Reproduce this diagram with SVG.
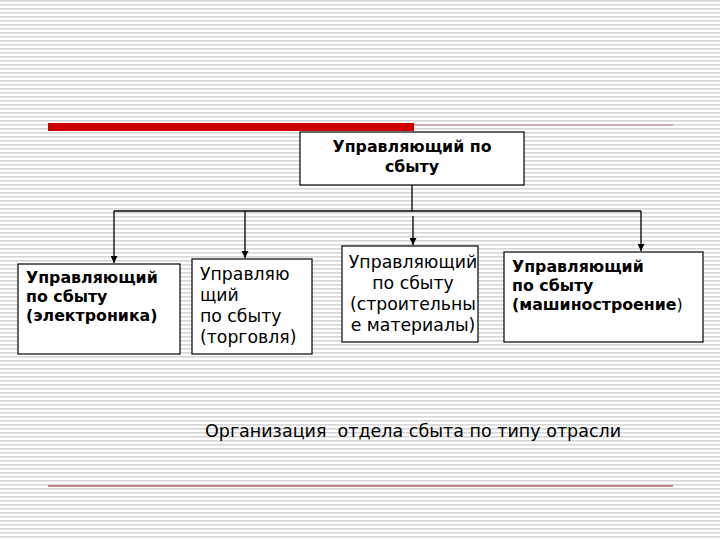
<svg xmlns="http://www.w3.org/2000/svg" width="720" height="540" viewBox="0 0 720 540">
<defs>
<pattern id="stripes" width="8" height="4" patternUnits="userSpaceOnUse">
<rect width="8" height="4" fill="#ffffff"/>
<rect y="0" width="8" height="1.6" fill="#d6d6d6"/>
</pattern>
<marker id="arr" viewBox="0 0 10 10" refX="10" refY="5" markerWidth="7" markerHeight="7" orient="auto" markerUnits="userSpaceOnUse">
<path d="M0,0 L10,5 L0,10 z" fill="#000"/>
</marker>
<style>
.box{fill:#fff;stroke:#000;stroke-width:1.2}
.b{font-family:"DejaVu Sans",Verdana,sans-serif;font-weight:bold;font-size:15.8px;fill:#000}
.r{font-family:"DejaVu Sans",Verdana,sans-serif;font-size:17.3px;fill:#000}
.ln{fill:none;stroke:#000;stroke-width:1.3}
</style>
</defs>
<rect width="720" height="540" fill="url(#stripes)"/>
<rect x="48" y="123" width="366" height="8" fill="#cc0000"/>
<line x1="414" y1="125" x2="673" y2="125" stroke="#b08080" stroke-width="1"/>
<line x1="48" y1="486" x2="673" y2="486" stroke="#8b1a1a" stroke-width="1.2"/>
<g id="connectors">
<path class="ln" d="M412,185 V211"/>
<path class="ln" d="M114,211 H641"/>
<path class="ln" d="M114,211 V263" marker-end="url(#arr)"/>
<path class="ln" d="M245,211 V258" marker-end="url(#arr)"/>
<path class="ln" d="M413,216 V245" marker-end="url(#arr)"/>
<path class="ln" d="M641,211 V251" marker-end="url(#arr)"/>
</g>
<g id="top">
<rect class="box" x="300" y="132" width="224" height="53"/>
<text class="b" x="412" y="152" text-anchor="middle">Управляющий по</text>
<text class="b" x="412" y="172" text-anchor="middle">сбыту</text>
</g>
<g id="n1">
<rect class="box" x="18" y="264" width="162" height="90"/>
<text class="b" x="26" y="283">Управляющий</text>
<text class="b" x="26" y="302">по сбыту</text>
<text class="b" x="26" y="321">(электроника)</text>
</g>
<g id="n2">
<rect class="box" x="192" y="259" width="120" height="95"/>
<text class="r" x="200" y="280">Управляю</text>
<text class="r" x="200" y="301">щий</text>
<text class="r" x="200" y="322">по сбыту</text>
<text class="r" x="200" y="343">(торговля)</text>
</g>
<g id="n3">
<rect class="box" x="342" y="246" width="136" height="96"/>
<text class="r" x="413" y="268" text-anchor="middle">Управляющий</text>
<text class="r" x="413" y="289" text-anchor="middle">по сбыту</text>
<text class="r" x="413" y="310" text-anchor="middle">(строительны</text>
<text class="r" x="413" y="331" text-anchor="middle">е материалы)</text>
</g>
<g id="n4">
<rect class="box" x="504" y="252" width="199" height="90"/>
<text class="b" x="512" y="272">Управляющий</text>
<text class="b" x="512" y="291">по сбыту</text>
<text class="b" x="512" y="310">(машиностроение<tspan font-weight="normal">)</tspan></text>
</g>
<text x="205" y="437" font-family="DejaVu Sans,Verdana,sans-serif" font-size="17.5" fill="#000" xml:space="preserve">Организация  отдела сбыта по типу отрасли</text>
</svg>
